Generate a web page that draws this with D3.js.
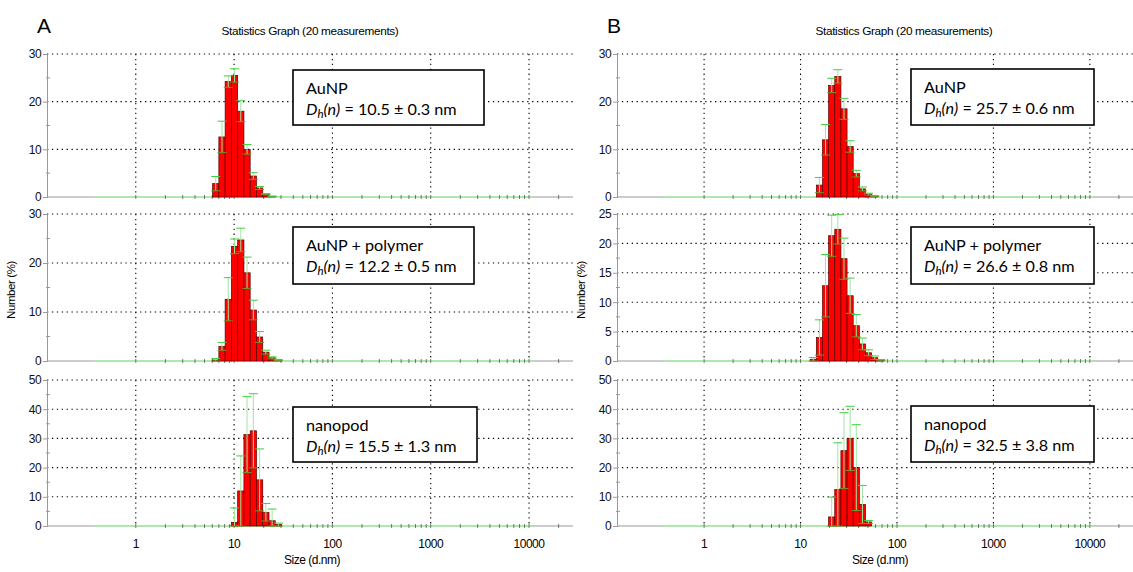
<!DOCTYPE html>
<html>
<head>
<meta charset="utf-8">
<script src="https://cdn.jsdelivr.net/npm/d3@7/dist/d3.min.js"></script>
<style>
  body { margin: 0; background: #fff; }
  svg { display: block; font-family: Arial, "Liberation Sans", sans-serif; }
</style>
</head>
<body>
<div id="chart"></div>
<script>
// size classes (d.nm, bin centres) and number %
var sizesA1 = [6.503, 7.531, 8.721, 10.10, 11.70, 13.54, 15.69, 18.17, 21.04, 24.36];
var numA1   = [2.8, 12.6, 24.2, 25.5, 18.0, 10.0, 4.4, 1.9, 0.6, 0.15];
var errA1   = [1.5, 3.3, 1.2, 1.4, 2.2, 1.0, 0.7, 0.3, 0.1, 0];

var sizesA2 = [6.503, 7.531, 8.721, 10.10, 11.70, 13.54, 15.69, 18.17, 21.04, 24.36, 28.21];
var numA2   = [0.2, 3.0, 12.6, 23.4, 24.7, 18.0, 10.4, 4.9, 1.8, 0.65, 0.2];
var errA2   = [0.3, 0.8, 4.4, 1.5, 2.4, 3.2, 2.0, 1.1, 0.4, 0.2, 0.1];

var sizesA3 = [10.10, 11.70, 13.54, 15.69, 18.17, 21.04, 24.36, 28.21];
var numA3   = [1.2, 12.0, 31.3, 32.6, 15.8, 4.7, 1.8, 0.5];
var errA3   = [5.0, 12.0, 13.0, 12.7, 10.6, 3.0, 4.0, 0.5];

var sizesB1 = [15.69, 18.17, 21.04, 24.36, 28.21, 32.67, 37.84, 43.82, 50.75, 58.77];
var numB1   = [2.5, 12.0, 23.4, 25.3, 18.5, 10.6, 4.9, 1.7, 0.6, 0.2];
var errB1   = [1.6, 3.2, 1.5, 1.4, 2.2, 1.2, 0.7, 0.4, 0.2, 0.1];

var sizesB2 = [13.54, 15.69, 18.17, 21.04, 24.36, 28.21, 32.67, 37.84, 43.82, 50.75, 58.77, 68.06];
var numB2   = [0.3, 4.0, 12.8, 21.3, 22.4, 17.4, 11.1, 6.0, 2.9, 1.4, 0.56, 0.15];
var errB2   = [0.3, 3.0, 5.3, 3.5, 2.5, 3.5, 3.0, 1.9, 1.0, 0.5, 0.3, 0.1];

var sizesB3 = [21.04, 24.36, 28.21, 32.67, 37.84, 43.82, 50.75];
var numB3   = [3.1, 12.5, 25.8, 30.0, 20.0, 7.4, 1.4];
var errB3   = [6.8, 16.0, 13.0, 11.0, 14.7, 6.5, 0.5];

var sampleNames = ["AuNP", "AuNP + polymer", "nanopod"];
var dhA = ["10.5 ± 0.3", "12.2 ± 0.5", "15.5 ± 1.3"];
var dhB = ["25.7 ± 0.6", "26.6 ± 0.8", "32.5 ± 3.8"];

var yMaxA = [30, 30, 50], yStepA = [10, 10, 10];
var yMaxB = [30, 25, 50], yStepB = [10, 5, 10];
var xTicks = [1, 10, 100, 1000, 10000];
var sizeRange = [0.4, 10000];   // measured size classes
var binRatio = 1.158;           // ratio between neighbouring size classes

var width = 1133, height = 572;
var rowsY = [[54, 197], [214, 361], [380, 526]];
var boxesA = [{x: 293, y: 70, w: 191, h: 55}, {x: 293, y: 227, w: 181, h: 57}, {x: 293, y: 407, w: 184, h: 55}];
var boxesB = [{x: 911, y: 69, w: 183, h: 56}, {x: 911, y: 227, w: 183, h: 57}, {x: 911, y: 406, w: 183, h: 56}];

var panels = [
  {letter: "A", lx: 37, x0: 47, x1: 573, title: 310, ylab: 15, xlab: 312, boxes: boxesA,
   rows: [[sizesA1, numA1, errA1], [sizesA2, numA2, errA2], [sizesA3, numA3, errA3]],
   yMax: yMaxA, yStep: yStepA, dh: dhA},
  {letter: "B", lx: 607, x0: 617, x1: 1133, title: 904, ylab: 585, xlab: 880, boxes: boxesB,
   rows: [[sizesB1, numB1, errB1], [sizesB2, numB2, errB2], [sizesB3, numB3, errB3]],
   yMax: yMaxB, yStep: yStepB, dh: dhB}
];

var svg = d3.select("#chart").append("svg")
  .attr("width", width)
  .attr("height", height);

var half = Math.sqrt(binRatio);
var dots = "1.3,3.6";

// minor x ticks 1..20000
var minorX = [];
xTicks.forEach(function (d) {
  for (var k = 1; k < 10; k++) { if (d * k <= 20000) minorX.push(d * k); }
});

function drawRow(g, x, rowData, top, bottom, yMax, yStep, isLast) {
  var sizes = rowData[0], num = rowData[1], err = rowData[2];
  var y = d3.scaleLinear().domain([0, yMax]).range([bottom, top]);
  var ticks = d3.range(0, yMax + 0.001, yStep);

  // dotted grid
  g.selectAll(".hgrid").data(ticks.slice(1)).enter().append("line")
    .attr("x1", x.range()[0]).attr("x2", x.range()[1])
    .attr("y1", function (d) { return y(d); })
    .attr("y2", function (d) { return y(d); })
    .attr("stroke", "#000").attr("stroke-width", 1.1)
    .attr("stroke-dasharray", dots);
  g.selectAll(".vgrid").data(xTicks).enter().append("line")
    .attr("x1", function (d) { return x(d); })
    .attr("x2", function (d) { return x(d); })
    .attr("y1", top).attr("y2", bottom)
    .attr("stroke", "#000").attr("stroke-width", 1.1)
    .attr("stroke-dasharray", dots);

  // x axis line, green zero line over the measured range
  g.append("line")
    .attr("x1", x.range()[0]).attr("x2", x.range()[1])
    .attr("y1", bottom).attr("y2", bottom)
    .attr("stroke", "#999").attr("stroke-width", 1);
  g.append("line")
    .attr("x1", x(sizeRange[0] / half)).attr("x2", x(sizeRange[1] * half))
    .attr("y1", bottom).attr("y2", bottom)
    .attr("stroke", "#a6f0a6").attr("stroke-width", 1.3);
  g.selectAll(".mtick").data(minorX).enter().append("line")
    .attr("x1", function (d) { return x(d); })
    .attr("x2", function (d) { return x(d); })
    .attr("y1", bottom - 2).attr("y2", bottom + 2)
    .attr("stroke", "#444").attr("stroke-width", 0.7);

  // y axis
  var yAxis = g.append("g")
    .attr("transform", "translate(" + x.range()[0] + ",0)")
    .call(d3.axisLeft(y).tickValues(ticks).tickSize(4).tickPadding(2).tickFormat(d3.format("d")));
  yAxis.select(".domain").attr("stroke", "#999");
  yAxis.selectAll(".tick line").attr("stroke", "#999");
  yAxis.selectAll("text").attr("font-size", 12).attr("letter-spacing", -0.6).attr("fill", "#111");
  g.selectAll(".ymin").data(ticks.slice(1)).enter().append("line")
    .attr("x1", x.range()[0] - 1).attr("x2", x.range()[0] + 3)
    .attr("y1", function (d) { return y(d - yStep / 2); })
    .attr("y2", function (d) { return y(d - yStep / 2); })
    .attr("stroke", "#999");

  // histogram bars
  g.selectAll(".bar").data(sizes).enter().append("rect")
    .attr("x", function (d) { return x(d / half); })
    .attr("width", function (d) { return x(d * half) - x(d / half); })
    .attr("y", function (d, i) { return y(num[i]); })
    .attr("height", function (d, i) { return bottom - y(num[i]); })
    .attr("fill", "#ff0000")
    .attr("stroke", "#5a0000").attr("stroke-width", 0.7);

  // error bars
  var eb = g.selectAll(".err").data(sizes).enter().append("g");
  eb.append("line")
    .attr("x1", function (d) { return x(d); })
    .attr("x2", function (d) { return x(d); })
    .attr("y1", function (d, i) { return y(Math.max(0, num[i] - err[i])); })
    .attr("y2", function (d, i) { return y(num[i] + err[i]); })
    .attr("stroke", "#9fe89f").attr("stroke-width", 1);
  [-1, 1].forEach(function (s) {
    eb.append("line")
      .attr("x1", function (d) { return x(d) - 4.5; })
      .attr("x2", function (d) { return x(d) + 4.5; })
      .attr("y1", function (d, i) { return y(Math.max(0, num[i] + s * err[i])); })
      .attr("y2", function (d, i) { return y(Math.max(0, num[i] + s * err[i])); })
      .attr("stroke", s > 0 ? "#44cc44" : "#6a9a2a").attr("stroke-width", 1);
  });

  if (isLast) {
    g.selectAll(".xlab").data(xTicks).enter().append("text")
      .attr("x", function (d) { return x(d); })
      .attr("y", bottom + 22)
      .attr("text-anchor", "middle")
      .attr("font-size", 12).attr("letter-spacing", -0.5)
      .text(function (d) { return d; });
  }
}

function drawBox(g, b, name, dh) {
  g.append("rect")
    .attr("x", b.x).attr("y", b.y).attr("width", b.w).attr("height", b.h)
    .attr("fill", "#fff").attr("stroke", "#000").attr("stroke-width", 1.6);
  var t = g.append("g").attr("font-family", "Lato, 'Open Sans', sans-serif").attr("font-size", 16.2);
  t.append("text").attr("x", b.x + 13).attr("y", b.y + 24).text(name);
  var l2 = t.append("text").attr("x", b.x + 13).attr("y", b.y + 45);
  l2.append("tspan").attr("font-style", "italic").text("D");
  l2.append("tspan").attr("font-style", "italic").attr("font-size", 11.5).attr("dy", 3).text("h");
  l2.append("tspan").attr("font-style", "italic").attr("dy", -3).text("(n)");
  l2.append("tspan").text(" = " + dh + " nm");
}

panels.forEach(function (p) {
  var g = svg.append("g");
  var x = d3.scaleLog().domain([0.125, 28000]).range([p.x0, p.x1]);

  g.append("text").attr("x", p.lx).attr("y", 33)
    .attr("font-size", 21).text(p.letter);
  g.append("text").attr("x", p.title).attr("y", 35)
    .attr("text-anchor", "middle").attr("font-size", 11.8).attr("letter-spacing", -0.35)
    .text("Statistics Graph (20 measurements)");

  p.rows.forEach(function (r, i) {
    drawRow(g.append("g"), x, r, rowsY[i][0], rowsY[i][1], p.yMax[i], p.yStep[i], i === 2);
  });
  p.rows.forEach(function (r, i) {
    drawBox(g, p.boxes[i], sampleNames[i], p.dh[i]);
  });

  g.append("text")
    .attr("transform", "translate(" + p.ylab + ",290) rotate(-90)")
    .attr("text-anchor", "middle").attr("font-size", 11.5).attr("letter-spacing", -0.4)
    .text("Number (%)");
  g.append("text").attr("x", p.xlab).attr("y", 564)
    .attr("text-anchor", "middle").attr("font-size", 12).attr("letter-spacing", -0.5)
    .text("Size (d.nm)");
});
</script>
</body>
</html>
